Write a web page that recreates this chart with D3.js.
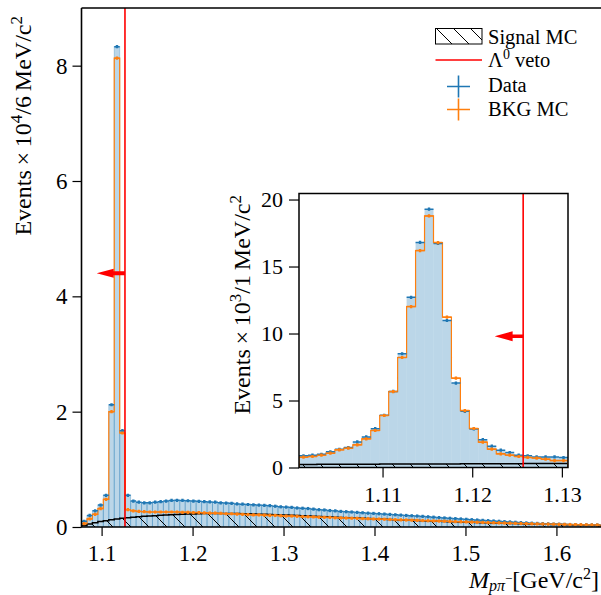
<!DOCTYPE html>
<html>
<head>
<meta charset="utf-8">
<script src="https://cdn.jsdelivr.net/npm/d3@7"></script>
<style>
  body { margin: 0; background: #fff; }
  svg { display: block; }
  text { font-family: "Liberation Serif", serif; fill: #000; }
</style>
</head>
<body>
<div id="chart"></div>
<script>
// main histogram: 6 MeV bins starting at the p pi threshold (units of 10^4)
const mainLow = 1.0779, mainBin = 0.006;
const mainData = [
  0.10, 0.20, 0.28, 0.38, 0.55, 2.12, 8.33, 1.67, 0.55, 0.45,
  0.43, 0.42, 0.42, 0.43, 0.44, 0.45, 0.46, 0.462, 0.46, 0.455,
  0.45, 0.445, 0.44, 0.435, 0.43, 0.42, 0.415, 0.41, 0.40, 0.395,
  0.39, 0.385, 0.38, 0.375, 0.37, 0.36, 0.35, 0.345, 0.34, 0.33,
  0.325, 0.32, 0.31, 0.30, 0.295, 0.285, 0.28, 0.27, 0.265, 0.26,
  0.253, 0.247, 0.24, 0.235, 0.23, 0.224, 0.218, 0.212, 0.206, 0.20,
  0.195, 0.19, 0.184, 0.177, 0.17, 0.163, 0.157, 0.151, 0.145, 0.139,
  0.133, 0.127, 0.121, 0.115, 0.11, 0.104, 0.099, 0.093, 0.088, 0.082,
  0.076, 0.071, 0.066, 0.062, 0.058, 0.054, 0.05, 0.048, 0.045, 0.043,
  0.041, 0.039, 0.038, 0.036, 0.035
];
const mainBkg = [
  0.06, 0.14, 0.22, 0.32, 0.48, 2.00, 8.13, 1.63, 0.30, 0.28,
  0.27, 0.265, 0.26, 0.26, 0.26, 0.26, 0.26, 0.26, 0.255, 0.255,
  0.25, 0.25, 0.245, 0.24, 0.24, 0.235, 0.23, 0.23, 0.225, 0.22,
  0.215, 0.21, 0.21, 0.205, 0.20, 0.20, 0.195, 0.19, 0.19, 0.185,
  0.18, 0.178, 0.175, 0.17, 0.168, 0.165, 0.16, 0.158, 0.155, 0.152,
  0.15, 0.146, 0.143, 0.14, 0.137, 0.134, 0.13, 0.127, 0.124, 0.121,
  0.118, 0.115, 0.112, 0.109, 0.106, 0.103, 0.1, 0.097, 0.094, 0.091,
  0.088, 0.085, 0.082, 0.079, 0.077, 0.074, 0.071, 0.068, 0.066, 0.063,
  0.061, 0.058, 0.056, 0.054, 0.052, 0.05, 0.048, 0.046, 0.044, 0.042,
  0.041, 0.039, 0.038, 0.036, 0.035
];
const mainSig = [
  0.025, 0.05, 0.075, 0.095, 0.11, 0.125, 0.14, 0.15, 0.16, 0.17,
  0.178, 0.185, 0.19, 0.197, 0.202, 0.207, 0.212, 0.217, 0.22, 0.224,
  0.227, 0.23, 0.232, 0.234, 0.235, 0.235, 0.235, 0.234, 0.232, 0.23,
  0.228, 0.225, 0.222, 0.219, 0.216, 0.213, 0.21, 0.206, 0.202, 0.198,
  0.194, 0.19, 0.186, 0.182, 0.178, 0.174, 0.17, 0.166, 0.162, 0.158,
  0.154, 0.15, 0.146, 0.142, 0.138, 0.134, 0.13, 0.126, 0.122, 0.118,
  0.115, 0.112, 0.108, 0.105, 0.102, 0.099, 0.096, 0.093, 0.09, 0.087,
  0.084, 0.081, 0.078, 0.075, 0.072, 0.07, 0.067, 0.065, 0.062, 0.06,
  0.057, 0.055, 0.052, 0.05, 0.048, 0.046, 0.044, 0.042, 0.04, 0.038,
  0.036, 0.034, 0.032, 0.031, 0.03
];
const mainXTicks = [1.1, 1.2, 1.3, 1.4, 1.5, 1.6];
const mainYTicks = [0, 2, 4, 6, 8];

// inset: 1 MeV bins, Lambda mass +- 15 MeV (units of 10^3)
const insetLow = 1.100683, insetBin = 0.001;
const insetData = [
  0.87, 0.92, 0.99, 1.17, 1.36, 1.49, 1.91, 2.28, 2.90, 3.90,
  5.68, 8.49, 12.70, 16.80, 19.28, 16.72, 10.97, 6.30, 4.19, 2.88,
  2.08, 1.59, 1.29, 1.12, 0.92, 0.87, 0.79, 0.79, 0.79, 0.74
];
const insetBkg = [
  0.77, 0.82, 0.92, 1.07, 1.32, 1.44, 1.69, 2.14, 2.76, 3.88,
  5.67, 8.21, 12.01, 16.19, 18.78, 16.79, 11.22, 6.67, 4.25, 2.91,
  1.89, 1.37, 1.02, 0.92, 0.82, 0.75, 0.70, 0.62, 0.52, 0.52
];
const insetSig = [
  0.23, 0.23, 0.235, 0.24, 0.24, 0.245, 0.25, 0.25, 0.25, 0.255,
  0.26, 0.26, 0.26, 0.265, 0.265, 0.27, 0.27, 0.27, 0.275, 0.275,
  0.28, 0.28, 0.28, 0.285, 0.285, 0.29, 0.29, 0.29, 0.29, 0.295
];
const insetXTicks = [1.11, 1.12, 1.13];
const insetYTicks = [0, 5, 10, 15, 20];

const vetoCut = 1.125683;
const mainArrow = { y: 4.4, tip: 1.0946 };
const insetArrow = { y: 9.8, tip: 1.1225 };

const legendLabels = ["Signal MC", "veto", "Data", "BKG MC"];

const blue = "#1f77b4", orange = "#ff7f0e", red = "#ff0000";
const W = 601, H = 595;

const svg = d3.select("#chart").append("svg")
  .attr("width", W)
  .attr("height", H);

const defs = svg.append("defs");
function hatch(id, s) {
  defs.append("pattern")
    .attr("id", id)
    .attr("patternUnits", "userSpaceOnUse")
    .attr("width", s).attr("height", s)
    .append("path")
    .attr("d", `M0,0L${s},${s}M-1,${s - 1}L1,${s + 1}M${s - 1},-1L${s + 1},1`)
    .attr("stroke", "#000")
    .attr("stroke-width", 1);
}
hatch("hatchMain", 18);
hatch("hatchLeg", 17);

function bins(low, w, vals) {
  return vals.map((v, i) => ({ x0: low + i * w, x1: low + (i + 1) * w, v }));
}

function stepPath(x, y, b) {
  let d = `M${x(b[0].x0)},${y(0)}`;
  b.forEach(e => { d += `L${x(e.x0)},${y(e.v)}L${x(e.x1)},${y(e.v)}`; });
  d += `L${x(b[b.length - 1].x1)},${y(0)}`;
  return d;
}

function drawHists(g, x, y, low, w, data, bkg, sig, edges) {
  const bd = bins(low, w, data), bb = bins(low, w, bkg), bs = bins(low, w, sig);

  // data as filled bars
  g.selectAll(".bar")
    .data(bd)
    .join("rect")
    .attr("x", d => x(d.x0))
    .attr("y", d => y(d.v))
    .attr("width", d => x(d.x1) - x(d.x0))
    .attr("height", d => y(0) - y(d.v))
    .attr("fill", blue)
    .attr("fill-opacity", 0.3)
    .attr("stroke", edges ? blue : "none")
    .attr("stroke-opacity", 0.3)
    .attr("stroke-width", 1);

  // signal MC, hatched
  g.append("path")
    .attr("d", stepPath(x, y, bs))
    .attr("fill", "url(#hatchMain)")
    .attr("stroke", "#000")
    .attr("stroke-width", 1.5);

  // bkg MC outline
  g.append("path")
    .attr("d", stepPath(x, y, bb))
    .attr("fill", "none")
    .attr("stroke", orange)
    .attr("stroke-width", 1.2);

  // error bars for data and bkg
  [[bd, blue], [bb, orange]].forEach(([b, c]) => {
    const eg = g.append("g").attr("stroke", c);
    eg.selectAll(".h").data(b).join("line")
      .attr("x1", d => x(d.x0)).attr("x2", d => x(d.x1))
      .attr("y1", d => y(d.v)).attr("y2", d => y(d.v))
      .attr("stroke-width", 1.5);
    eg.selectAll(".v").data(b).join("line")
      .attr("x1", d => x((d.x0 + d.x1) / 2)).attr("x2", d => x((d.x0 + d.x1) / 2))
      .attr("y1", d => y(d.v) - 1.6).attr("y2", d => y(d.v) + 1.6)
      .attr("stroke-width", 2.4);
  });
}

function drawVeto(g, x, y, arrow, yTop, shaft, head, headLen) {
  g.append("line")
    .attr("x1", x(vetoCut)).attr("x2", x(vetoCut))
    .attr("y1", yTop).attr("y2", y(0))
    .attr("stroke", red)
    .attr("stroke-width", 1.6);
  const x0 = x(vetoCut), x1 = x(arrow.tip), yy = y(arrow.y);
  const xb = x1 + headLen;
  g.append("path")
    .attr("d", `M${x0},${yy - shaft}L${xb},${yy - shaft}L${xb},${yy - head}L${x1},${yy}` +
      `L${xb},${yy + head}L${xb},${yy + shaft}L${x0},${yy + shaft}Z`)
    .attr("fill", red);
}

// ---------- main panel ----------
const m = { left: 81.5, right: 600, top: 8, bottom: 527 };
const x = d3.scaleLinear().domain([mainLow, mainLow + mainBin * mainData.length]).range([m.left, m.right]);
const y = d3.scaleLinear().domain([0, 9]).range([m.bottom, m.top]);

defs.append("clipPath").attr("id", "clipMain")
  .append("rect").attr("x", m.left).attr("y", m.top)
  .attr("width", W - m.left).attr("height", m.bottom - m.top);

const gm = svg.append("g").attr("clip-path", "url(#clipMain)");
drawHists(gm, x, y, mainLow, mainBin, mainData, mainBkg, mainSig, true);
drawVeto(gm, x, y, mainArrow, m.top, 2, 4.5, 17);

const ax = svg.append("g")
  .attr("transform", `translate(0,${m.bottom})`)
  .call(d3.axisBottom(x).tickValues(mainXTicks).tickFormat(d3.format(".1f")).tickSize(9).tickPadding(9));
const ay = svg.append("g")
  .attr("transform", `translate(${m.left},0)`)
  .call(d3.axisLeft(y).tickValues(mainYTicks).tickSize(9).tickPadding(5));
[ax, ay].forEach(a => {
  a.select(".domain").remove();
  a.selectAll("line").attr("stroke", "#000").attr("stroke-width", 1.2);
  a.selectAll("text").style("font-family", "Liberation Serif").style("font-size", "23px").attr("fill", "#000");
});

svg.append("path")
  .attr("d", `M${m.left},${m.top}H${W + 2}M${m.left},${m.top}V${m.bottom}H${W + 2}`)
  .attr("fill", "none")
  .attr("stroke", "#000")
  .attr("stroke-width", 1.6);

// ---------- inset ----------
const n = { left: 299, right: 568, top: 193.5, bottom: 467.5 };
const xi = d3.scaleLinear().domain([insetLow, insetLow + insetBin * insetData.length]).range([n.left, n.right]);
const yi = d3.scaleLinear().domain([0, 20.45]).range([n.bottom, n.top]);

svg.append("rect")
  .attr("x", n.left).attr("y", n.top)
  .attr("width", n.right - n.left).attr("height", n.bottom - n.top)
  .attr("fill", "#fff");

defs.append("clipPath").attr("id", "clipInset")
  .append("rect").attr("x", n.left).attr("y", n.top)
  .attr("width", n.right - n.left).attr("height", n.bottom - n.top);

const gi = svg.append("g").attr("clip-path", "url(#clipInset)");
drawHists(gi, xi, yi, insetLow, insetBin, insetData, insetBkg, insetSig, false);
drawVeto(gi, xi, yi, insetArrow, n.top, 1.7, 5, 18);

const axi = svg.append("g")
  .attr("transform", `translate(0,${n.bottom})`)
  .call(d3.axisBottom(xi).tickValues(insetXTicks).tickFormat(d3.format(".2f")).tickSize(10).tickPadding(9));
const ayi = svg.append("g")
  .attr("transform", `translate(${n.left},0)`)
  .call(d3.axisLeft(yi).tickValues(insetYTicks).tickSize(10).tickPadding(6));
[axi, ayi].forEach(a => {
  a.select(".domain").remove();
  a.selectAll("line").attr("stroke", "#000").attr("stroke-width", 1.2);
  a.selectAll("text").style("font-family", "Liberation Serif").style("font-size", "22px").attr("fill", "#000");
});

svg.append("rect")
  .attr("x", n.left).attr("y", n.top)
  .attr("width", n.right - n.left).attr("height", n.bottom - n.top)
  .attr("fill", "none")
  .attr("stroke", "#000")
  .attr("stroke-width", 1.5);

// ---------- axis labels ----------
function yLabel(px, py, power) {
  const t = svg.append("text")
    .attr("transform", `translate(${px},${py}) rotate(-90)`)
    .attr("text-anchor", "end")
    .style("font-size", "24px");
  t.append("tspan").text("Events\u2009×\u200910");
  t.append("tspan").attr("dy", -9).style("font-size", "17px").text(power.sup);
  t.append("tspan").attr("dy", 9).text("/" + power.unit + "\u2009MeV/c");
  t.append("tspan").attr("dy", -9).style("font-size", "17px").text("2");
}
yLabel(31, 16, { sup: "4", unit: "6" });
yLabel(250, 195, { sup: "3", unit: "1" });

const xl = svg.append("text")
  .attr("x", 599).attr("y", 588)
  .attr("text-anchor", "end")
  .style("font-size", "24px");
xl.append("tspan").style("font-style", "italic").text("M");
xl.append("tspan").attr("dy", 3).style("font-style", "italic").style("font-size", "16px").text("pπ");
xl.append("tspan").attr("dy", -8).style("font-size", "13px").text("−");
xl.append("tspan").attr("dy", 5).text("[GeV/c");
xl.append("tspan").attr("dy", -9).style("font-size", "16px").text("2");
xl.append("tspan").attr("dy", 9).text("]");

// ---------- legend ----------
const lg = svg.append("g").style("font-size", "20.5px");
lg.append("rect")
  .attr("x", 435.5).attr("y", 28.5).attr("width", 46.5).attr("height", 15.5)
  .attr("fill", "url(#hatchLeg)")
  .attr("stroke", "#000").attr("stroke-width", 1);
lg.append("line")
  .attr("x1", 435.5).attr("x2", 482).attr("y1", 60).attr("y2", 60)
  .attr("stroke", red).attr("stroke-width", 1.6);
[[blue, 86.5], [orange, 109.5]].forEach(([c, cy]) => {
  lg.append("path")
    .attr("d", `M447,${cy}H470M458.5,${cy - 11}V${cy + 11}`)
    .attr("stroke", c).attr("stroke-width", 1.6);
});
lg.append("text").attr("x", 488).attr("y", 43.5).text(legendLabels[0]);
const lv = lg.append("text").attr("x", 488).attr("y", 67);
lv.append("tspan").text("Λ");
lv.append("tspan").attr("dy", -8).style("font-size", "14px").text("0");
lv.append("tspan").attr("dy", 8).text(" " + legendLabels[1]);
lg.append("text").attr("x", 488).attr("y", 92).text(legendLabels[2]);
lg.append("text").attr("x", 488).attr("y", 116).text(legendLabels[3]);
</script>
</body>
</html>
